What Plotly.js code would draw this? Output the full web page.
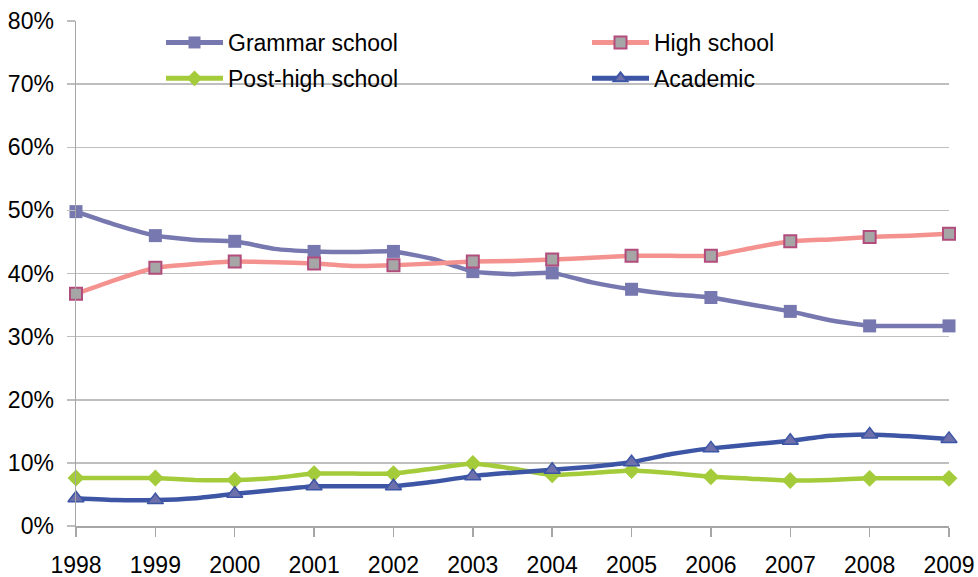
<!DOCTYPE html>
<html>
<head>
<meta charset="utf-8">
<script src="https://cdn.plot.ly/plotly-3.0.1.min.js"></script>
<style>
html,body{margin:0;padding:0;background:#fff;}
#chart{width:978px;height:577px;}
</style>
</head>
<body>
<div id="chart"></div>
<script>
// x positions: half-year steps (markers drawn only at full years)
var periods = [1998, 1998.5, 1999, 1999.5, 2000, 2000.5, 2001, 2001.5, 2002, 2002.5, 2003, 2003.5,
               2004, 2004.5, 2005, 2005.5, 2006, 2006.5, 2007, 2007.5, 2008, 2008.5, 2009];
var yearTicks = [1998, 1999, 2000, 2001, 2002, 2003, 2004, 2005, 2006, 2007, 2008, 2009];
var yearLabels = ['1998','1999','2000','2001','2002','2003','2004','2005','2006','2007','2008','2009'];

var grammarSchool = [49.8, 47.7, 46.0, 45.3, 45.1, 43.9, 43.5, 43.4, 43.5, 42.3, 40.3, 39.9,
                     40.1, 38.6, 37.5, 36.7, 36.2, 35.1, 34.0, 32.6, 31.7, 31.7, 31.7];
var highSchool    = [36.8, 39.0, 40.9, 41.5, 41.9, 41.8, 41.6, 41.2, 41.3, 41.6, 41.9, 42.0,
                     42.2, 42.5, 42.8, 42.8, 42.8, 44.0, 45.1, 45.4, 45.8, 46.0, 46.3];
var postHigh      = [7.6, 7.6, 7.6, 7.3, 7.3, 7.6, 8.3, 8.3, 8.3, 9.1, 9.9, 9.1,
                     8.1, 8.4, 8.8, 8.4, 7.8, 7.5, 7.2, 7.3, 7.55, 7.55, 7.55];
var academic      = [4.4, 4.1, 4.1, 4.4, 5.1, 5.7, 6.3, 6.3, 6.3, 7.0, 7.9, 8.45,
                     8.9, 9.4, 10.1, 11.4, 12.3, 12.9, 13.5, 14.3, 14.5, 14.2, 13.8];

var seriesNames = ['Grammar school', 'High school', 'Post-high school', 'Academic'];

function atYears(v, other) {
  return periods.map(function (p) { return (p % 1 === 0) ? v : other; });
}

var FONT = 'Liberation Sans, Arial, sans-serif';

var traces = [
  {
    x: periods, y: grammarSchool, name: seriesNames[0], mode: 'lines+markers', cliponaxis: false,
    legend: 'legend', legendgroup: 'g1',
    line: {color: '#7878B0', width: 4.5, shape: 'spline', smoothing: 0.4},
    marker: {symbol: 'square', size: atYears(13, 0), opacity: 1, color: '#7878B0', line: {width: 0}}
  },
  {
    x: periods, y: highSchool, name: seriesNames[1], mode: 'lines+markers', cliponaxis: false,
    legend: 'legend2', legendgroup: 'g2',
    line: {color: '#F4928F', width: 4.5, shape: 'spline', smoothing: 0.4},
    marker: {symbol: 'square', size: atYears(12, 0), opacity: 1, color: '#A6A6A6',
             line: {color: '#B24C7C', width: atYears(2, 0)}}
  },
  {
    x: periods, y: postHigh, name: seriesNames[2], mode: 'lines+markers', cliponaxis: false,
    legend: 'legend', legendgroup: 'g3',
    line: {color: '#A4CB3A', width: 4.5, shape: 'spline', smoothing: 0.4},
    marker: {symbol: 'diamond', size: atYears(13, 0), opacity: 1, color: '#A4CB3A', line: {width: 0}}
  },
  {
    x: periods, y: academic, name: seriesNames[3], mode: 'lines+markers', cliponaxis: false,
    legend: 'legend2', legendgroup: 'g4',
    line: {color: '#3D55A5', width: 4.5, shape: 'spline', smoothing: 0.4},
    marker: {symbol: 'triangle-up', size: atYears(14, 0), opacity: 1, color: '#6D70AA',
             line: {color: '#3D55A5', width: atYears(1.5, 0)}}
  }
];

function legendStyle(xpx) {
  return {
    orientation: 'v', x: (xpx - 76) / 873, xanchor: 'left', y: 1, yanchor: 'top',
    itemwidth: 57, itemsizing: 'constant', traceorder: 'grouped', tracegroupgap: 3,
    bgcolor: 'rgba(0,0,0,0)', borderwidth: 0,
    font: {family: FONT, size: 23, color: '#000'}
  };
}

var layout = {
  width: 978, height: 577,
  margin: {l: 76, r: 29, t: 21, b: 51},
  paper_bgcolor: '#fff', plot_bgcolor: '#fff',
  font: {family: FONT, size: 23, color: '#000'},
  showlegend: true,
  legend: legendStyle(161),
  legend2: legendStyle(587),
  xaxis: {
    range: [1998, 2009], tickmode: 'array', tickvals: yearTicks, ticktext: yearLabels,
    showgrid: false, zeroline: false, showline: true, linecolor: '#A6A6A6', linewidth: 1.5,
    ticks: 'outside', ticklen: 9, tickcolor: '#A6A6A6', tickwidth: 1.5,
    ticklabelstandoff: 9, tickfont: {family: FONT, size: 23, color: '#000'}
  },
  yaxis: {
    range: [0, 80], dtick: 10, ticksuffix: '%',
    showgrid: true, gridcolor: '#BEBEBE', gridwidth: 1.5, zeroline: false,
    showline: true, linecolor: '#A6A6A6', linewidth: 1.5,
    ticks: 'outside', ticklen: 8, tickcolor: '#BEBEBE', tickwidth: 1.5,
    ticklabelstandoff: 8, tickfont: {family: FONT, size: 23, color: '#000'}
  }
};

Plotly.newPlot('chart', traces, layout, {staticPlot: true, displayModeBar: false});
</script>
</body>
</html>
